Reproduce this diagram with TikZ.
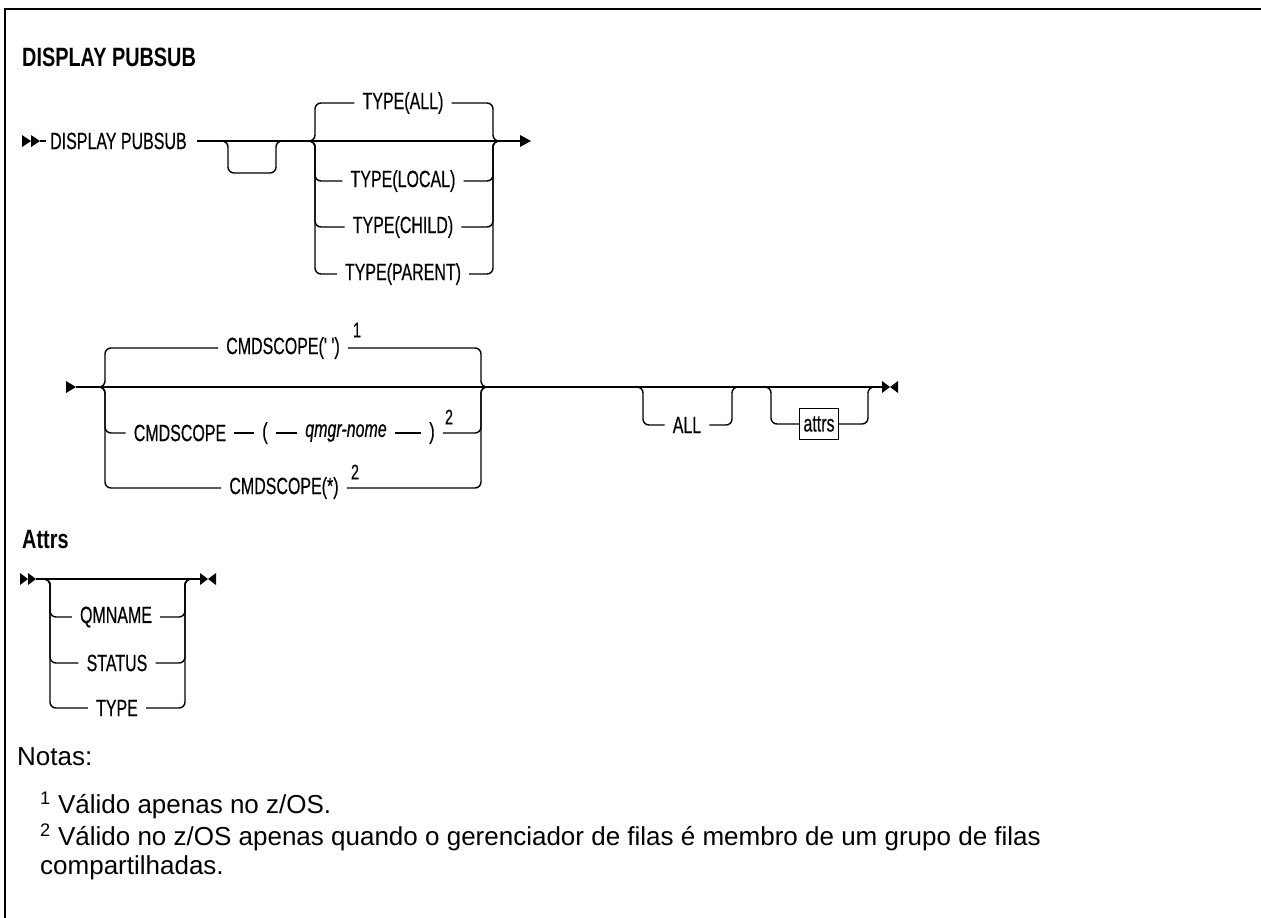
\documentclass[tikz,border=0pt]{standalone}
\usepackage{fontspec}
\setmainfont{Liberation Sans}
\newfontfamily\dfont[FakeStretch=0.68,FakeBold=0.4]{Liberation Sans}
\newfontfamily\tfont[FakeStretch=0.75]{Liberation Sans}
\newfontfamily\nfont{Liberation Sans}
\begin{document}
\begin{tikzpicture}[x=1pt,y=-1pt,
  ln/.style={line width=1.4pt,rounded corners=6pt},
  dt/.style={font=\dfont\fontsize{23.5}{26}\selectfont,inner xsep=8pt,inner ysep=2pt,anchor=center},
  it/.style={font=\dfont\fontsize{23.5}{26}\selectfont\itshape,inner xsep=8pt,inner ysep=2pt},
  sp/.style={font=\dfont\fontsize{21}{22}\selectfont,inner sep=0pt},
  ttl/.style={font=\tfont\bfseries\fontsize{26.5}{30}\selectfont,anchor=west,inner sep=0pt},
  nt/.style={font=\nfont\fontsize{26}{30}\selectfont,anchor=west,inner sep=0pt},
  tri/.style={fill=black,draw=none}]
\useasboundingbox (0,0) rectangle (1261,918);
% frame
\draw[line width=2pt] (5,918) -- (5,9) -- (1261,9);
% title
\node[ttl] (title) at (22,57) {DISPLAY PUBSUB};
% ---------- row 1 ----------
\fill[tri] (22,135) -- (31,141) -- (22,147) -- cycle;
\fill[tri] (31,135) -- (40,141) -- (31,147) -- cycle;
\coordinate (s1) at (40,141);
\node[dt,anchor=west,inner xsep=4pt] (dp) at (46,141) {DISPLAY PUBSUB};
\coordinate (e1) at (521,141);
\draw[ln] (s1) -- (dp.west);
\draw[ln] (dp.east) ++(6,0) -- (e1);
\fill[tri] (520,135) -- (531,141) -- (520,147) -- cycle;
% empty loop
\draw[ln] (220,141) -- (228,141) -- (228,173) -- (276,173) -- (276,141) -- (284,141);
% TYPE group
\node[dt] (tall) at (403,103) {TYPE(ALL)};
\node[dt] (tloc) at (403,181) {TYPE(LOCAL)};
\node[dt] (tchi) at (403,227) {TYPE(CHILD)};
\node[dt] (tpar) at (403,274) {TYPE(PARENT)};
\foreach \n in {tall,tloc,tchi,tpar}{
  \draw[ln] (307,141) -- (315,141) |- (\n.west);
  \draw[ln] (\n.east) -| (493,141) -- (501,141);
}
% ---------- row 2 ----------
\fill[tri] (66,381) -- (76,387) -- (66,393) -- cycle;
\coordinate (s2) at (76,387);
\coordinate (e2) at (882,387);
\draw[ln] (s2) -- (e2);
\fill[tri] (882,381) -- (890,387) -- (882,393) -- cycle;
\fill[tri] (898,381) -- (890,387) -- (898,393) -- cycle;
% CMDSCOPE group
\node[dt] (c1) at (283,348) {CMDSCOPE(' ')};
\node[sp] (c1s) at (357,330) {1};
\node[dt] (c2a) at (180,433) {CMDSCOPE};
\node[dt] (c2b) at (265,433) {(};
\node[it] (c2c) at (346,433) {qmgr-nome};
\node[dt] (c2d) at (432,433) {)};
\node[sp] (c2s) at (449,417) {2};
\node[dt] (c3) at (284,488) {CMDSCOPE(*)};
\node[sp] (c3s) at (355,472) {2};
\draw[ln] (97,387) -- (105,387) |- (c1.west);
\draw[ln] (c1.east) -| (481,387) -- (489,387);
\draw[ln] (97,387) -- (105,387) |- (c2a.west);
\draw[ln] (c2a.east) -- (c2b.west);
\draw[ln] (c2b.east) -- (c2c.west);
\draw[ln] (c2c.east) -- (c2d.west);
\draw[ln] (c2d.east) -| (481,387) -- (489,387);
\draw[ln] (97,387) -- (105,387) |- (c3.west);
\draw[ln] (c3.east) -| (481,387) -- (489,387);
% ALL loop
\node[dt] (all) at (687,425) {ALL};
\draw[ln] (635,387) -- (643,387) |- (all.west);
\draw[ln] (all.east) -| (732,387) -- (740,387);
% attrs loop
\node[dt,draw,line width=1.2pt,inner xsep=4pt,minimum height=31pt] (atb) at (819,424) {attrs};
\draw[ln] (763,387) -- (771,387) |- (atb.west);
\draw[ln] (atb.east) -| (868,387) -- (876,387);
% ---------- Attrs ----------
\node[ttl] (attrs) at (22,540) {Attrs};
\fill[tri] (20,573) -- (28,579) -- (20,585) -- cycle;
\fill[tri] (28,573) -- (36,579) -- (28,585) -- cycle;
\coordinate (s3) at (36,579);
\coordinate (e3) at (200,579);
\draw[ln] (s3) -- (e3);
\fill[tri] (200,573) -- (208,579) -- (200,585) -- cycle;
\fill[tri] (216,573) -- (208,579) -- (216,585) -- cycle;
\node[dt] (qm) at (116,617) {QMNAME};
\node[dt] (st) at (117,663) {STATUS};
\node[dt] (ty) at (117,708) {TYPE};
\foreach \n in {qm,st,ty}{
  \draw[ln] (42,579) -- (50,579) |- (\n.west);
  \draw[ln] (\n.east) -| (185,579) -- (193,579);
}
% ---------- notes ----------
\node[nt] (notas) at (17,757) {Notas:};
\node[nt] (n1) at (40,805) {\textsuperscript{1} Válido apenas no z/OS.};
\node[nt] (n2) at (40,837) {\textsuperscript{2} Válido no z/OS apenas quando o gerenciador de filas é membro de um grupo de filas};
\node[nt] (n3) at (40,868) {compartilhadas.};
\end{tikzpicture}
\end{document}
